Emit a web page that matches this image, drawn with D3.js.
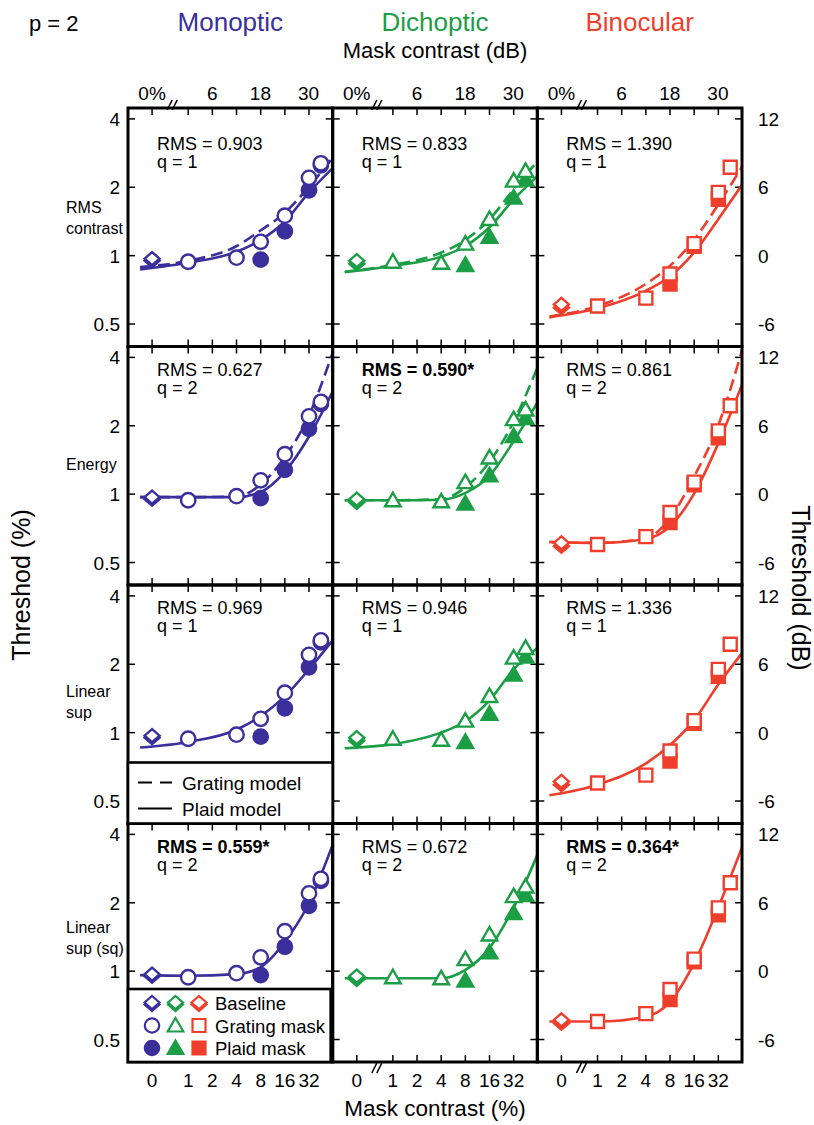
<!DOCTYPE html>
<html>
<head>
<meta charset="utf-8">
<script src="https://cdn.jsdelivr.net/npm/d3@7"></script>
<style>
body { margin: 0; background: #fff; }
text { font-family: "Liberation Sans", Arial, Helvetica, sans-serif; }
</style>
</head>
<body>
<svg id="chart"></svg>
<script>
// ---- data ----
var columns = ["Monoptic", "Dichoptic", "Binocular"];
var colColors = ["#3b2f9c", "#1b9e45", "#ef3f2c"];
var rowLabels = [["RMS", "contrast"], ["Energy"], ["Linear", "sup"], ["Linear", "sup (sq)"]];
var rmsLabels = [
  ["RMS = 0.903", "RMS = 0.833", "RMS = 1.390"],
  ["RMS = 0.627", "RMS = 0.590*", "RMS = 0.861"],
  ["RMS = 0.969", "RMS = 0.946", "RMS = 1.336"],
  ["RMS = 0.559*", "RMS = 0.672", "RMS = 0.364*"]];
var rmsBold = [[0, 0, 0], [0, 1, 0], [0, 0, 0], [1, 0, 1]];
var qLabels = ["q = 1", "q = 2", "q = 1", "q = 2"];

var yTicks = [0.5, 1, 2, 4];
var yTickLabels = ["0.5", "1", "2", "4"];
var dbTickLabels = ["-6", "0", "6", "12"];
var xTicksPct = [0, 1, 2, 4, 8, 16, 32];
var xBottomLabels = ["0", "1", "2", "4", "8", "16", "32"];
var xTopDb = [6, 18, 30];

// mask contrast (%) of the data points
var gratingPct = [1, 4, 8, 16, 32, 45];
var plaidPct = [[8, 16, 32, 45], [8, 16, 32, 45], [8, 16, 32]];
// thresholds (%) [open, filled] baseline
var baseline = [[0.97, 0.95], [0.95, 0.92], [0.61, 0.59]];
var gratingData = [
  [0.94, 0.98, 1.15, 1.50, 2.20, 2.55],
  [0.94, 0.93, 1.13, 1.45, 2.14, 2.36],
  [0.60, 0.65, 0.83, 1.13, 1.90, 2.45]];
var plaidData = [
  [0.96, 1.28, 1.94, 2.50],
  [0.91, 1.21, 1.80, 2.16],
  [0.75, 1.10, 1.77]];

// model fits, sampled at mask contrast in dB
var fitDb = [-12, 0, 12, 18, 24, 30, 36];
var rmsGratingFit = [
  [0.89, 0.95, 1.10, 1.29, 1.54, 2.00, 2.70],
  [0.85, 0.91, 1.03, 1.17, 1.44, 1.95, 2.60],
  [0.54, 0.60, 0.75, 0.90, 1.17, 1.67, 2.46]];
var rmsPlaidFit = [
  [0.87, 0.93, 1.04, 1.17, 1.41, 1.89, 2.43],
  [0.845, 0.90, 0.99, 1.10, 1.33, 1.76, 2.24],
  [0.535, 0.586, 0.70, 0.81, 1.03, 1.44, 2.05]];
var energyGratingFit = [
  [0.97, 0.97, 0.975, 1.10, 1.45, 2.20, 4.20],
  [0.94, 0.94, 0.95, 1.07, 1.38, 2.07, 3.60],
  [0.616, 0.61, 0.64, 0.78, 1.19, 1.99, 4.30]];
var energyPlaidFit = [
  [0.97, 0.97, 0.97, 1.02, 1.25, 1.78, 2.83],
  [0.94, 0.94, 0.945, 1.01, 1.20, 1.70, 2.53],
  [0.616, 0.61, 0.635, 0.72, 1.00, 1.66, 3.03]];
var linsupFit = [
  [0.86, 0.91, 1.03, 1.18, 1.44, 1.89, 2.55],
  [0.854, 0.89, 1.00, 1.12, 1.38, 1.89, 2.36],
  [0.53, 0.59, 0.73, 0.88, 1.13, 1.62, 2.24]];
var linsupSqFit = [
  [0.96, 0.955, 0.97, 1.04, 1.34, 1.98, 3.60],
  [0.93, 0.93, 0.93, 1.01, 1.26, 1.89, 3.25],
  [0.60, 0.60, 0.63, 0.73, 1.08, 1.89, 3.50]];
var gratingFits = [rmsGratingFit, energyGratingFit, null, null];
var plaidFits = [rmsPlaidFit, energyPlaidFit, linsupFit, linsupSqFit];

// ---- layout ----
var W = 814, H = 1125;
var left = 128, top0 = 108, colW = 204.67, rowH = 238.5;
var svg = d3.select("#chart").attr("width", W).attr("height", H);

var x = d3.scaleLinear().domain([-15, 36]).range([0, colW]);
var y = d3.scaleLog().domain([Math.pow(10, -8 / 20), Math.pow(10, 13 / 20)]).range([rowH, 0]);
function toDb(c) { return c === 0 ? -9 : 20 * Math.log10(c); }

var shapes = {
  circle: "M7.2,0A7.2,7.2 0 1,1 -7.2,0A7.2,7.2 0 1,1 7.2,0Z",
  triangle: "M0,-7.5L7.8,6L-7.8,6Z",
  square: "M-6.5,-6.5H6.5V6.5H-6.5Z",
  diamond: "M0,-6.5L7.5,0L0,6.5L-7.5,0Z"
};
var colShape = ["circle", "triangle", "square"];

svg.append("clipPath").attr("id", "clip").append("rect")
  .attr("width", colW).attr("height", rowH);

var line = d3.line()
  .x(function(d) { return x(d[0]); })
  .y(function(d) { return y(d[1]); })
  .curve(d3.curveMonotoneX);

for (var r = 0; r < 4; r++) {
  for (var c = 0; c < 3; c++) {
    var g = svg.append("g").attr("transform", "translate(" + (left + c * colW) + "," + (top0 + r * rowH) + ")");
    var col = colColors[c];

    // ticks, pointing inward on all sides
    xTicksPct.forEach(function(p) {
      var xx = x(toDb(p));
      g.append("line").attr("x1", xx).attr("x2", xx).attr("y1", 0).attr("y2", 7);
      g.append("line").attr("x1", xx).attr("x2", xx).attr("y1", rowH).attr("y2", rowH - 7);
    });
    yTicks.forEach(function(t) {
      g.append("line").attr("x1", 0).attr("x2", 7).attr("y1", y(t)).attr("y2", y(t));
      g.append("line").attr("x1", colW).attr("x2", colW - 7).attr("y1", y(t)).attr("y2", y(t));
    });
    g.selectAll("line").attr("stroke", "#000").attr("stroke-width", 1.5);

    // fits
    var curves = g.append("g").attr("clip-path", "url(#clip)");
    if (gratingFits[r]) {
      curves.append("path")
        .attr("d", line(fitDb.map(function(d, i) { return [d, gratingFits[r][c][i]]; })))
        .attr("fill", "none").attr("stroke", col).attr("stroke-width", 2.6)
        .attr("stroke-dasharray", "12,6");
    }
    curves.append("path")
      .attr("d", line(fitDb.map(function(d, i) { return [d, plaidFits[r][c][i]]; })))
      .attr("fill", "none").attr("stroke", col).attr("stroke-width", 2.6);

    // data points
    var shp = shapes[colShape[c]];
    plaidPct[c].forEach(function(p, i) {
      g.append("path").attr("d", shp)
        .attr("transform", "translate(" + x(toDb(p)) + "," + y(plaidData[c][i]) + ")")
        .attr("fill", col).attr("stroke", col).attr("stroke-width", 2.4);
    });
    gratingPct.forEach(function(p, i) {
      g.append("path").attr("d", shp)
        .attr("transform", "translate(" + x(toDb(p)) + "," + y(gratingData[c][i]) + ")")
        .attr("fill", "#fff").attr("stroke", col).attr("stroke-width", 2.4);
    });
    g.append("path").attr("d", shapes.diamond)
      .attr("transform", "translate(" + x(toDb(0)) + "," + y(baseline[c][1]) + ")")
      .attr("fill", col).attr("stroke", col).attr("stroke-width", 2.4);
    g.append("path").attr("d", shapes.diamond)
      .attr("transform", "translate(" + x(toDb(0)) + "," + y(baseline[c][0]) + ")")
      .attr("fill", "#fff").attr("stroke", col).attr("stroke-width", 2.4);

    // RMS / q text
    var ty = r === 0 ? 42 : 29;
    g.append("text").attr("x", 29).attr("y", ty).attr("font-size", 18)
      .attr("font-weight", rmsBold[r][c] ? "bold" : "normal").text(rmsLabels[r][c]);
    g.append("text").attr("x", 29).attr("y", ty + 18).attr("font-size", 18).text(qLabels[r]);

    // frame
    g.append("rect").attr("width", colW).attr("height", rowH)
      .attr("fill", "none").attr("stroke", "#000").attr("stroke-width", 3);
  }
}

// left / right threshold tick labels
for (var r2 = 0; r2 < 4; r2++) {
  yTicks.forEach(function(t, i) {
    svg.append("text").attr("x", left - 8).attr("y", top0 + r2 * rowH + y(t) + 7)
      .attr("text-anchor", "end").attr("font-size", 19).text(yTickLabels[i]);
    svg.append("text").attr("x", left + 3 * colW + 16).attr("y", top0 + r2 * rowH + y(t) + 7)
      .attr("font-size", 19).text(dbTickLabels[i]);
  });
}

// top (dB) and bottom (%) mask contrast labels
for (var c2 = 0; c2 < 3; c2++) {
  var ox = left + c2 * colW;
  svg.append("text").attr("x", ox + x(toDb(0))).attr("y", top0 - 8)
    .attr("text-anchor", "middle").attr("font-size", 19).text("0%");
  xTopDb.forEach(function(d) {
    svg.append("text").attr("x", ox + x(d)).attr("y", top0 - 8)
      .attr("text-anchor", "middle").attr("font-size", 19).text(d);
  });
  xTicksPct.forEach(function(p, i) {
    svg.append("text").attr("x", ox + x(toDb(p))).attr("y", top0 + 4 * rowH + 25)
      .attr("text-anchor", "middle").attr("font-size", 19).text(xBottomLabels[i]);
  });
}

// axis breaks
function breakMark(cx, cy) {
  [-2.5, 2.5].forEach(function(dx) {
    svg.append("line").attr("x1", cx + dx - 2.5).attr("y1", cy + 5)
      .attr("x2", cx + dx + 2.5).attr("y2", cy - 5)
      .attr("stroke", "#000").attr("stroke-width", 1.6);
  });
}
for (var c3 = 0; c3 < 3; c3++) {
  breakMark(left + c3 * colW + x(-4), top0 - 3);
  if (c3 > 0) breakMark(left + c3 * colW + x(-4), top0 + 4 * rowH + 6);
}

// legends
var lg1 = svg.append("g").attr("transform", "translate(" + left + "," + (top0 + 3 * rowH - 61) + ")");
lg1.append("rect").attr("width", colW).attr("height", 61).attr("fill", "#fff")
  .attr("stroke", "#000").attr("stroke-width", 2.6);
lg1.append("line").attr("x1", 10).attr("x2", 44).attr("y1", 20).attr("y2", 20)
  .attr("stroke", "#000").attr("stroke-width", 2.2).attr("stroke-dasharray", "14,8");
lg1.append("line").attr("x1", 10).attr("x2", 44).attr("y1", 46).attr("y2", 46)
  .attr("stroke", "#000").attr("stroke-width", 2.2);
lg1.append("text").attr("x", 54).attr("y", 27).attr("font-size", 19).text("Grating model");
lg1.append("text").attr("x", 54).attr("y", 53).attr("font-size", 19).text("Plaid model");

var legendRows = ["Baseline", "Grating mask", "Plaid mask"];
var lg2 = svg.append("g").attr("transform", "translate(" + left + "," + (top0 + 4 * rowH - 73) + ")");
lg2.append("rect").attr("width", colW - 2).attr("height", 73).attr("fill", "#fff")
  .attr("stroke", "#000").attr("stroke-width", 2.6);
legendRows.forEach(function(name, i) {
  var ly = 14 + i * 22.5;
  for (var c4 = 0; c4 < 3; c4++) {
    var lx = 24 + c4 * 23.5;
    if (i === 0) {
      lg2.append("path").attr("d", shapes.diamond).attr("transform", "translate(" + lx + "," + (ly + 1.5) + ")")
        .attr("fill", colColors[c4]).attr("stroke", colColors[c4]).attr("stroke-width", 2.2);
      lg2.append("path").attr("d", shapes.diamond).attr("transform", "translate(" + lx + "," + (ly - 0.5) + ")")
        .attr("fill", "#fff").attr("stroke", colColors[c4]).attr("stroke-width", 2.2);
    } else {
      lg2.append("path").attr("d", shapes[colShape[c4]]).attr("transform", "translate(" + lx + "," + ly + ")")
        .attr("fill", i === 2 ? colColors[c4] : "#fff").attr("stroke", colColors[c4]).attr("stroke-width", 2.2);
    }
  }
  lg2.append("text").attr("x", 87).attr("y", ly + 7).attr("font-size", 18.5).text(name);
});

// titles and labels
svg.append("text").attr("x", 29).attr("y", 31).attr("font-size", 22).text("p = 2");
columns.forEach(function(name, i) {
  svg.append("text").attr("x", left + (i + 0.5) * colW).attr("y", 31)
    .attr("text-anchor", "middle").attr("font-size", 26).attr("fill", colColors[i]).text(name);
});
svg.append("text").attr("x", left + 1.5 * colW).attr("y", 58)
  .attr("text-anchor", "middle").attr("font-size", 22).text("Mask contrast (dB)");
svg.append("text").attr("x", left + 1.5 * colW).attr("y", 1116)
  .attr("text-anchor", "middle").attr("font-size", 22.5).text("Mask contrast (%)");
svg.append("text").attr("transform", "translate(30,585) rotate(-90)")
  .attr("text-anchor", "middle").attr("font-size", 25).text("Threshod (%)");
svg.append("text").attr("transform", "translate(792,588) rotate(90)")
  .attr("text-anchor", "middle").attr("font-size", 25).text("Threshold (dB)");

var rowLabelY = [[213, 234], [470], [697, 718], [933, 954]];
rowLabels.forEach(function(lines, i) {
  lines.forEach(function(t, j) {
    svg.append("text").attr("x", 66).attr("y", rowLabelY[i][j]).attr("font-size", 16).text(t);
  });
});
</script>
</body>
</html>
